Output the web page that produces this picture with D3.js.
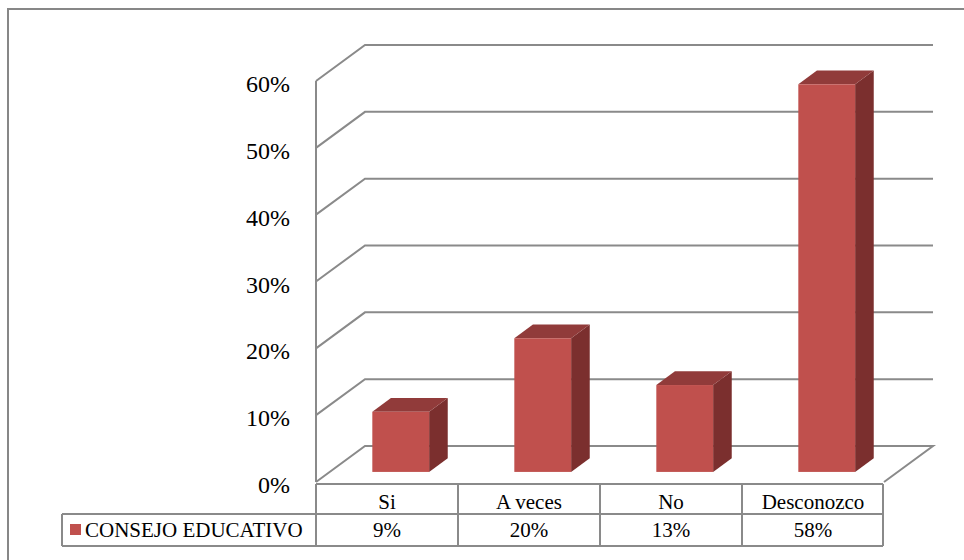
<!DOCTYPE html>
<html>
<head>
<meta charset="utf-8">
<script src="https://cdn.jsdelivr.net/npm/d3@7"></script>
<style>
  html, body { margin: 0; padding: 0; background: #fff; }
  svg { display: block; }
  text { font-family: "Liberation Serif", "Times New Roman", serif; fill: #000; }
</style>
</head>
<body>
<svg id="chart" width="964" height="560"></svg>
<script>
// Chart data
const categories = ["Si", "A veces", "No", "Desconozco"];
const seriesName = "CONSEJO EDUCATIVO";
const values = [0.09, 0.20, 0.13, 0.58];
const valueLabels = ["9%", "20%", "13%", "58%"];
const yTicks = [0, 0.1, 0.2, 0.3, 0.4, 0.5, 0.6];

const svg = d3.select("#chart");

// Plot geometry: front plane plus a receding depth offset
const plotLeft = 316, plotRight = 884;
const depthX = 49, depthY = -36;
const barFront = 0.28, barBack = 0.66;   // bar depth as fraction of the floor depth

const x = d3.scaleBand().domain(categories).range([plotLeft, plotRight]).padding(0);
const y = d3.scaleLinear().domain([0, 0.6]).range([482, 81]);
const pct = d3.format(".0%");

const gridColor = "#8a8a8a";
const barW = x.bandwidth() * 0.4;

// Outer chart frame
svg.append("rect")
  .attr("x", 8).attr("y", 9).attr("width", 1000).attr("height", 600)
  .attr("fill", "none").attr("stroke", "#878787").attr("stroke-width", 2);

// Side wall + back wall gridlines
const grid = svg.append("g").attr("fill", "none").attr("stroke", gridColor).attr("stroke-width", 2);
yTicks.forEach(t => {
  if (t === 0) return;
  const yf = y(t);
  grid.append("path")
    .attr("d", d3.line()([[plotLeft, yf], [plotLeft + depthX, yf + depthY], [plotRight + depthX, yf + depthY]]));
});

// Floor
grid.append("path")
  .attr("d", d3.line()([
    [plotLeft, y(0)], [plotLeft + depthX, y(0) + depthY],
    [plotRight + depthX, y(0) + depthY], [plotRight, y(0)]
  ]));

// Vertical axis line on the side wall
grid.append("line")
  .attr("x1", plotLeft).attr("x2", plotLeft)
  .attr("y1", y(0.6)).attr("y2", y(0));

// Y axis tick labels
svg.append("g").selectAll("text").data(yTicks).join("text")
  .attr("x", 290).attr("y", d => y(d) + 11)
  .attr("text-anchor", "end")
  .attr("font-size", 24)
  .text(d => pct(d));

// 3D columns
const bars = svg.append("g");
categories.forEach((c, i) => {
  const v = values[i];
  const fx = x(c) + x.bandwidth() / 2 - barW / 2 + depthX * barFront;
  const fyOff = depthY * barFront;
  const bx = (barBack - barFront) * depthX;
  const by = (barBack - barFront) * depthY;
  const yb = y(0) + fyOff;
  const yt = y(v) + fyOff;
  const g = bars.append("g");
  // right side face
  g.append("path")
    .attr("d", d3.line()([[fx + barW, yt], [fx + barW + bx, yt + by], [fx + barW + bx, yb + by], [fx + barW, yb]]) + "Z")
    .attr("fill", "#7b2f2e");
  // top face
  g.append("path")
    .attr("d", d3.line()([[fx, yt], [fx + barW, yt], [fx + barW + bx, yt + by], [fx + bx, yt + by]]) + "Z")
    .attr("fill", "#913b3a");
  // front face
  g.append("rect")
    .attr("x", fx).attr("y", yt).attr("width", barW).attr("height", yb - yt)
    .attr("fill", "#c0504d");
});

// Data table below the plot
const tableTop = 484, rowMid = 514, tableBottom = 546, legendLeft = 62;
const tbl = svg.append("g").attr("stroke", gridColor).attr("stroke-width", 2).attr("fill", "none");
tbl.append("line").attr("x1", plotLeft).attr("x2", plotRight - 1).attr("y1", tableTop).attr("y2", tableTop);
tbl.append("line").attr("x1", legendLeft).attr("x2", plotRight - 1).attr("y1", rowMid).attr("y2", rowMid);
tbl.append("line").attr("x1", legendLeft).attr("x2", plotRight - 1).attr("y1", tableBottom).attr("y2", tableBottom);
tbl.append("line").attr("x1", legendLeft).attr("x2", legendLeft).attr("y1", rowMid).attr("y2", tableBottom);
categories.forEach((c, i) => {
  tbl.append("line").attr("x1", x(c)).attr("x2", x(c)).attr("y1", tableTop).attr("y2", tableBottom);
});
tbl.append("line").attr("x1", plotRight - 1).attr("x2", plotRight - 1).attr("y1", tableTop).attr("y2", tableBottom);

// Category header row
svg.append("g").selectAll("text").data(categories).join("text")
  .attr("x", d => x(d) + x.bandwidth() / 2).attr("y", 509)
  .attr("text-anchor", "middle").attr("font-size", 21)
  .text(d => d);

// Value row
svg.append("g").selectAll("text").data(valueLabels).join("text")
  .attr("x", (d, i) => x(categories[i]) + x.bandwidth() / 2).attr("y", 537)
  .attr("text-anchor", "middle").attr("font-size", 21)
  .text(d => d);

// Legend key inside the table
svg.append("rect").attr("x", 70).attr("y", 524).attr("width", 11).attr("height", 11).attr("fill", "#c0504d");
svg.append("text").attr("x", 85).attr("y", 537).attr("font-size", 21).text(seriesName);
</script>
</body>
</html>
